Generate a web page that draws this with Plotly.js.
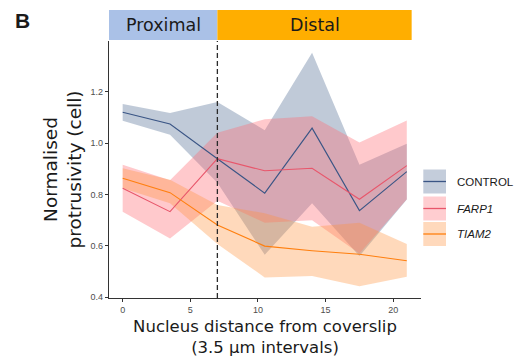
<!DOCTYPE html>
<html>
<head>
<meta charset="utf-8">
<script src="https://cdn.plot.ly/plotly-3.0.1.min.js"></script>
<style>html,body{margin:0;padding:0;background:#fff;}#chart{width:522px;height:358px;}</style>
</head>
<body>
<div id="chart"></div>
<script>
// Data
const xPos = [0, 3.5, 7, 10.5, 14, 17.5, 21];
const controlMean = [1.120, 1.074, 0.939, 0.805, 1.058, 0.737, 0.889];
const controlLow  = [1.087, 1.032, 0.845, 0.565, 0.766, 0.560, 0.780];
const controlHigh = [1.152, 1.117, 1.160, 1.050, 1.351, 0.915, 0.997];
const farp1Mean = [0.824, 0.733, 0.939, 0.892, 0.902, 0.781, 0.912];
const farp1Low  = [0.733, 0.629, 0.775, 0.690, 0.700, 0.570, 0.781];
const farp1High = [0.915, 0.855, 1.040, 1.093, 1.104, 1.002, 1.088];
const tiam2Mean = [0.863, 0.807, 0.681, 0.599, 0.581, 0.567, 0.542];
const tiam2Low  = [0.824, 0.766, 0.607, 0.477, 0.483, 0.443, 0.480];
const tiam2High = [0.902, 0.857, 0.759, 0.727, 0.674, 0.690, 0.607];
const seriesNames = ['CONTROL', '<i>FARP1</i>', '<i>TIAM2</i>'];
const regionLabels = ['Proximal', 'Distal'];
const boundaryX = 7;
const xTitle = 'Nucleus distance from coverslip<br>(3.5 µm intervals)';
const yTitle = 'Normalised<br>protrusivity (cell)';

const lineColors = ['#3a5585', '#e8566b', '#ff7f0e'];
const fillColors = ['rgba(60,90,135,0.32)', 'rgba(255,105,115,0.36)', 'rgba(255,145,60,0.35)'];
const swatchFill = ['#c4cddb', '#ffcdd0', '#ffd9bc'];

const groups = [
  [controlMean, controlLow, controlHigh],
  [farp1Mean, farp1Low, farp1High],
  [tiam2Mean, tiam2Low, tiam2High]
];

const traces = [];
groups.forEach((g, i) => {
  traces.push({x: xPos, y: g[1], type: 'scatter', mode: 'lines', line: {width: 0, color: fillColors[i]}, showlegend: false, hoverinfo: 'skip'});
  traces.push({x: xPos, y: g[2], type: 'scatter', mode: 'lines', line: {width: 0, color: fillColors[i]}, fill: 'tonexty', fillcolor: fillColors[i], showlegend: false, hoverinfo: 'skip'});
});
groups.forEach((g, i) => {
  traces.push({x: xPos, y: g[0], type: 'scatter', mode: 'lines', line: {width: 1.1, color: lineColors[i]}, name: seriesNames[i], showlegend: false});
});

// layout geometry
const M = {l: 109, r: 101, t: 41, b: 60};
const W = 522 - M.l - M.r, H = 358 - M.t - M.b;
const px = p => (p - M.l) / W;
const py = p => (358 - M.b - p) / H;
const xLeft = -1.01, headerRight = 21.36;

const shapes = [
  {type: 'rect', xref: 'x', yref: 'paper', x0: xLeft, x1: boundaryX, y0: py(40), y1: py(10), line: {width: 0}, fillcolor: '#aac1e7'},
  {type: 'rect', xref: 'x', yref: 'paper', x0: boundaryX, x1: headerRight, y0: py(40), y1: py(10), line: {width: 0}, fillcolor: '#ffae00'},
  {type: 'line', xref: 'x', yref: 'paper', x0: boundaryX, x1: boundaryX, y0: 0, y1: 1, line: {color: '#2a2a2a', width: 1.3, dash: '5px,3px'}}
];

const annotations = [
  {text: '<b>B</b>', xref: 'paper', yref: 'paper', x: px(22), y: py(20.5), showarrow: false, font: {family: 'Liberation Sans, Arial, sans-serif', size: 21, color: '#1a1a1a'}, xanchor: 'center', yanchor: 'middle'},
  {text: regionLabels[0], xref: 'x', yref: 'paper', x: (xLeft + boundaryX) / 2, y: py(25), showarrow: false, font: {family: 'DejaVu Sans, sans-serif', size: 17.5, color: '#1a1a1a'}, xanchor: 'center', yanchor: 'middle'},
  {text: regionLabels[1], xref: 'x', yref: 'paper', x: (boundaryX + headerRight) / 2, y: py(25), showarrow: false, font: {family: 'DejaVu Sans, sans-serif', size: 17.5, color: '#1a1a1a'}, xanchor: 'center', yanchor: 'middle'}
];

// legend (ggplot-style keys)
const keyTop = [169.5, 196.5, 222];
seriesNames.forEach((n, i) => {
  const y0 = keyTop[i], y1 = keyTop[i] + 24;
  shapes.push({type: 'rect', xref: 'paper', yref: 'paper', x0: px(423.3), x1: px(446), y0: py(y1), y1: py(y0), line: {width: 0}, fillcolor: swatchFill[i]});
  shapes.push({type: 'line', xref: 'paper', yref: 'paper', x0: px(423.3), x1: px(446), y0: py((y0 + y1) / 2), y1: py((y0 + y1) / 2), line: {width: 1.3, color: lineColors[i]}});
  annotations.push({text: n, xref: 'paper', yref: 'paper', x: px(455), y: py((y0 + y1) / 2), showarrow: false, xanchor: 'left', yanchor: 'middle', font: {family: 'Liberation Sans, Arial, sans-serif', size: 11.5, color: '#1a1a1a'}});
});

const layout = {
  width: 522, height: 358,
  margin: M,
  paper_bgcolor: '#ffffff', plot_bgcolor: '#ffffff',
  showlegend: false,
  xaxis: {
    range: [xLeft, 22.05], tickvals: [0, 5, 10, 15, 20], ticktext: ['0', '5', '10', '15', '20'],
    showgrid: false, zeroline: false, showline: true, linecolor: '#333333', linewidth: 1.1,
    ticks: 'outside', ticklen: 3, tickcolor: '#333333', tickwidth: 1,
    tickfont: {family: 'Liberation Sans, Arial, sans-serif', size: 9, color: '#4d4d4d'},
    title: {text: xTitle, font: {family: 'DejaVu Sans, sans-serif', size: 16.5, color: '#1a1a1a'}, standoff: 6}
  },
  yaxis: {
    range: [0.397, 1.397], tickvals: [0.4, 0.6, 0.8, 1.0, 1.2], ticktext: ['0.4', '0.6', '0.8', '1.0', '1.2'],
    showgrid: false, zeroline: false, showline: true, linecolor: '#333333', linewidth: 1.1,
    ticks: 'outside', ticklen: 3, tickcolor: '#333333', tickwidth: 1,
    tickfont: {family: 'Liberation Sans, Arial, sans-serif', size: 9, color: '#4d4d4d'},
    title: {text: yTitle, font: {family: 'DejaVu Sans, sans-serif', size: 18.5, color: '#1a1a1a'}, standoff: 4}
  },
  shapes: shapes,
  annotations: annotations
};

Plotly.newPlot('chart', traces, layout, {displayModeBar: false, staticPlot: true});
</script>
</body>
</html>
